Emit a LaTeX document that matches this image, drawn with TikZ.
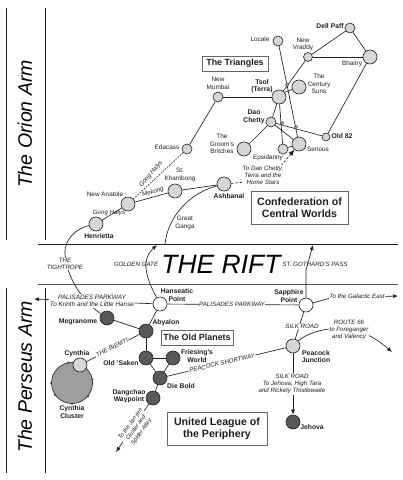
\documentclass[tikz,border=0pt]{standalone}
\usepackage{fontspec}
\setmainfont{Liberation Sans}
\usetikzlibrary{arrows.meta,calc}
\definecolor{ink}{gray}{0.12}
\tikzset{
 line/.style={draw=ink,line width=0.65pt},
 arrowline/.style={line,-{Latex[length=5pt,width=4pt]}},
 world/.style={circle,draw=ink,line width=0.6pt,inner sep=0pt,minimum size=#1},
 world/.default=14pt,
 pale/.style={world=#1,fill=black!16},
 pale/.default=14pt,
 dark/.style={world=#1,fill=black!65},
 dark/.default=14pt,
 open/.style={world=#1,fill=white},
 open/.default=14pt,
 lab/.style={font=\fontsize{6.4}{7.4}\selectfont,align=center,inner sep=0pt,text=ink},
 blab/.style={lab,font=\fontsize{6.8}{7.4}\selectfont\bfseries},
 road/.style={lab,font=\fontsize{6.2}{7.2}\selectfont\itshape},
 roadbg/.style={road,fill=white,inner sep=0.6pt},
 regionbox/.style={draw=black!60,line width=0.7pt,fill=white,align=center,inner sep=0pt,text=ink},
 smallbox/.style={regionbox,font=\fontsize{8.9}{10}\selectfont\bfseries},
 bigbox/.style={regionbox,font=\fontsize{10.6}{11.6}\selectfont\bfseries},
 rule/.style={draw=ink,line width=0.9pt},
 arm/.style={font=\fontsize{19.5}{20}\selectfont\itshape,rotate=90,inner sep=0pt},
 hop/.style={circle,draw=ink,line width=0.4pt,fill=white,inner sep=0pt,minimum size=3pt},
}
\begin{document}
\begin{tikzpicture}[x=1pt,y=-1pt]
\useasboundingbox (0,0) rectangle (403,480);
% rules
\coordinate (r1a) at (38,244); \coordinate (r1b) at (398,244);
\coordinate (r2a) at (38,284); \coordinate (r2b) at (398,284);
\coordinate (l1a) at (6,8); \coordinate (l1b) at (6,240);
\coordinate (l2a) at (45,8); \coordinate (l2b) at (45,240);
\coordinate (l3a) at (6,288); \coordinate (l3b) at (6,473);
\coordinate (l4a) at (45,288); \coordinate (l4b) at (45,473);
\draw[rule] (r1a)--(r1b); \draw[rule,draw=black!65] (r2a)--(r2b);
\draw[rule] (l1a)--(l1b); \draw[rule] (l2a)--(l2b);
\draw[rule] (l3a)--(l3b); \draw[rule] (l4a)--(l4b);
% titles
\node[arm] (orion) at (25,124) {The Orion Arm};
\node[arm] (perseus) at (25,377) {The Perseus Arm};
\node[font=\fontsize{26.5}{27}\selectfont\itshape,inner sep=0pt] (rift) at (221,264) {THE RIFT};
% worlds: Orion
\node[pale=10pt] (dell) at (350,28) {};
\node[pale=10pt] (locale) at (278,41) {};
\node[pale=9pt] (vraddy) at (308,57) {};
\node[pale=14pt] (bhaitry) at (370,57) {};
\node[pale=14pt] (century) at (299,87) {};
\node[pale=14pt] (tsol) at (279,97) {};
\node[pale=10pt] (mumbai) at (218,97) {};
\node[pale=10pt] (dao) at (271,122) {};
\node[pale=8pt] (old82) at (326,137) {};
\node[pale=14pt] (groom) at (244,149) {};
\node[pale=10pt] (epsi) at (283,149) {};
\node[pale=14pt] (serious) at (299,144) {};
\node[pale=10pt] (edacass) at (187,149) {};
\node[pale=14pt] (khambong) at (175,191) {};
\node[pale=14pt] (ashbanal) at (224,184) {};
\node[pale=14pt] (anatole) at (128,204) {};
\node[pale=14pt] (henrietta) at (96,224) {};
% worlds: Perseus
\node[world=41pt,fill=black!38] (cluster) at (72,383) {};
\foreach \a in {100,10,180,320,270,215}{\fill[ink] (cluster.\a) circle (1pt);}
\node[open] (hanseatic) at (160,304) {};
\node[open] (sapphire) at (306,305) {};
\node[pale] (peacock) at (293,346) {};
\node[dark] (megranome) at (107,318) {};
\node[dark] (abyalon) at (146,331) {};
\node[dark] (saken) at (146,358) {};
\node[dark] (friesing) at (173,358) {};
\node[dark] (diebold) at (160,378) {};
\node[dark] (dangchao) at (153,398) {};
\node[pale] (cynthia) at (80,365) {};
\node[dark] (jehova) at (293,422) {};
% free ends
\coordinate (ggolden) at (157,245);
\coordinate (gganga) at (165,244);
\coordinate (gothard) at (313,245);
\coordinate (krinth) at (34,299);
\coordinate (east) at (398,296);
\coordinate (route) at (392,352);
\coordinate (jan) at (116,452);
\coordinate (dashturn) at (246,182);
\coordinate (dashbend) at (276,172);
% links
\draw[line] (mumbai)--(tsol);
\draw[line] (mumbai)--(edacass);
\draw[line,dash pattern=on 1.6pt off 1.3pt] (edacass)--(anatole);
\draw[line] (anatole)--(khambong);
\draw[line] (khambong)--(ashbanal);
\draw[line] (anatole)--(henrietta);
\draw[line] (tsol)--(dao);
\draw[line] (tsol)--(epsi);
\draw[line] (tsol)--(vraddy);
\draw[line] (century)--(tsol.40);
\draw[line] (locale)--(serious);
\draw[line] (vraddy)--(dell);
\draw[line] (vraddy)--(bhaitry);
\draw[line] (dell)--(bhaitry);
\draw[line] (bhaitry)--(old82);
\draw[line] (dao)--(old82);
\draw[line] (dao)--(serious);
\draw[line] (dao)--(groom);
\draw[line] (epsi)--(serious);
\node[hop] (hop1) at (287,85) {};
\node[hop] (hop2) at (282,123) {};
\node[hop] (hop3) at (296,127) {};
\draw[line] (henrietta) .. controls (78,228) and (64,238) .. (65,254)
   .. controls (66,272) and (78,298) .. (megranome);
\draw[line] (ashbanal) .. controls (190,193) and (168,216) .. (gganga);
\draw[arrowline] (hanseatic) .. controls (150,285) and (138,262) .. (ggolden);
\draw[arrowline] (sapphire) -- (306,270) -- (gothard);
\draw[arrowline] (hanseatic) -- (krinth);
\draw[line] (hanseatic)--(sapphire);
\draw[line] (hanseatic)--(abyalon);
\draw[line] (megranome)--(abyalon);
\draw[line] (abyalon)--(saken);
\draw[line] (saken)--(friesing);
\draw[line] (saken)--(diebold);
\draw[line] (friesing)--(diebold);
\draw[line] (diebold)--(dangchao);
\draw[line] (abyalon)--(cynthia);
\draw[line] (diebold)--(peacock);
\draw[line] (sapphire)--(peacock);
\draw[arrowline] (peacock)--(jehova);
\draw[arrowline] (dangchao)--(jan);
\draw[arrowline] (sapphire) -- (330,298) -- (east);
\draw[arrowline] (peacock) .. controls (310,330) and (345,322) .. (368,335) .. controls (378,340) and (385,346) .. (route);
\draw[line,dash pattern=on 2.4pt off 1.8pt,-{Latex[length=6pt,width=5pt]}] (ashbanal) -- (dashturn) -- (dashbend) -- (serious);
% labels: Orion
\node[blab] (tdell) at (330,26) {Dell Paff};
\node[lab] (tlocale) at (260,39) {Locale};
\node[lab] (tvraddy) at (303,44.5) {New\\Vraddy};
\node[lab] (tbhaitry) at (352,64) {Bhaitry};
\node[lab] (tcentury) at (319,84) {The\\Century\\Suns};
\node[blab] (ttsol) at (262,86.5) {Tsol\\(Terra)};
\node[lab] (tmumbai) at (218,83.5) {New\\Mumbai};
\node[blab] (tdao) at (254,117) {Dao\\Chetty};
\node[blab] (told) at (342,136.5) {Old 82};
\node[lab] (tgroom) at (222,144) {The\\Groom's\\Britches};
\node[lab] (tepsi) at (268,157.5) {Epsidanny};
\node[lab] (tserious) at (318,149) {Serious};
\node[lab] (tedacass) at (167,147) {Edacass};
\node[lab] (tkham) at (180,175) {St.\\Khambong};
\node[blab] (tash) at (229,196) {Ashbanal};
\node[lab] (tanat) at (105,194.5) {New Anatole};
\node[blab] (thenr) at (99,236) {Henrietta};
\node[lab] (tganga) at (185,223) {Great\\Ganga};
\node[roadbg] (tdash) at (263,175.5) {To Dao Chetty,\\Terra and the\\Home Stars};
\node[road,rotate=50] (thalys1) at (151,174) {Gong Halys};
\node[road,rotate=17] (tmek) at (153,192) {Mekong};
\node[road] (thalys2) at (109,213) {Gong Halys};
\node[smallbox,minimum width=66pt,minimum height=15pt] (boxtri) at (235,63.5) {The Triangles};
\node[bigbox,minimum width=97pt,minimum height=33pt] (boxconf) at (299.5,207.5) {Confederation of\\Central Worlds};
% labels: rift
\node[roadbg] (ttight) at (65,264) {THE\\TIGHTROPE};
\node[road] (tgolden) at (136,264) {GOLDEN GATE};
\node[road] (tgoth) at (315,264) {ST. GOTHARD'S PASS};
% labels: Perseus
\node[blab] (thans) at (177,295) {Hanseatic\\Point};
\node[blab] (tsapp) at (289,296) {Sapphire\\Point};
\node[roadbg,font=\fontsize{6.4}{7.4}\selectfont\itshape] (tpal) at (92,301) {PALISADES PARKWAY\\To Krinth and the Little Hanse};
\node[roadbg] (tpal2) at (232,304) {PALISADES PARKWAY};
\node[roadbg] (teast) at (357,296.5) {To the Galactic East};
\node[blab] (tmeg) at (78,321.5) {Megranome};
\node[blab] (tab) at (166,322.5) {Abyalon};
\node[smallbox,minimum width=72pt,minimum height=15pt] (boxold) at (197,337.5) {The Old Planets};
\node[bigbox,minimum width=100pt,minimum height=33pt] (boxunited) at (217,428.5) {United League of\\the Periphery};
\node[roadbg,rotate=26] (tbiem) at (112,347.5) {THE BIEMTI};
\node[blab] (tcyn) at (77,354) {Cynthia};
\node[blab] (tsak) at (121,363) {Old 'Saken};
\node[blab] (tfri) at (197,356) {Friesing's\\World};
\node[blab] (tdie) at (181,386.5) {Die Bold};
\node[blab] (tdang) at (129,396) {Dangchao\\Waypoint};
\node[blab] (tcc) at (72,412) {Cynthia\\Cluster};
\node[blab] (tpea) at (316,356.5) {Peacock\\Junction};
\node[blab] (tjeh) at (312,427.5) {Jehova};
\node[roadbg,rotate=13.5] (tshort) at (222,363) {PEACOCK SHORTWAY};
\node[roadbg] (tsilk1) at (302,326.5) {SILK ROAD};
\node[roadbg] (tsilk2) at (292,384) {SILK ROAD\\To Jehova, High Tara\\and Rickety Thistlewaite};
\node[roadbg] (trt) at (349,330) {ROUTE 66\\to Foreganger\\and Valency};
\node[roadbg,rotate=54,font=\fontsize{5.8}{6.8}\selectfont\itshape] (tjan) at (136,428) {To the Jan-jen\\Cluster and\\Spider Alley};
\end{tikzpicture}
\end{document}
